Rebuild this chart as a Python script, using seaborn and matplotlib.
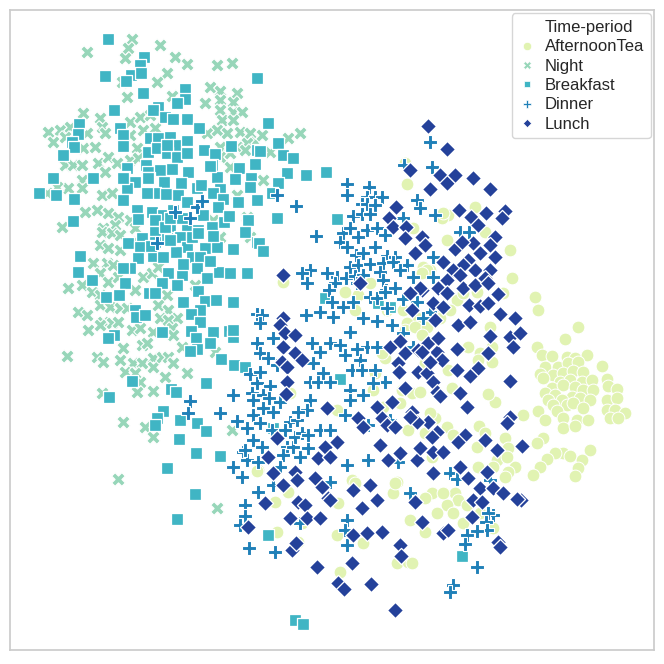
import numpy as np
import pandas as pd
import seaborn as sns
import matplotlib.pyplot as plt
from matplotlib.lines import Line2D

# point positions (x to the right, y downwards)
tea_x = [578, 537, 565, 542, 552, 567, 575, 587, 545, 558, 568, 578, 602, 540, 553, 563, 573, 583, 543, 560,
         570, 582, 592, 607, 552, 563, 575, 583, 593, 608, 617, 545, 555, 572, 580, 590, 607, 617, 548, 562,
         553, 567, 573, 583, 607, 615, 625, 538, 557, 563, 577, 588, 610, 618, 545, 563, 575, 543, 537, 590,
         563, 570, 555, 547, 540, 533, 582, 578, 575, 515, 508, 505, 523, 495, 488, 492, 468, 480, 478, 492,
         448, 425, 430, 447, 479, 485, 477, 453, 505, 497, 493, 508, 478, 455, 458, 467, 447, 453, 463, 432,
         425, 507, 452, 435, 475, 448, 442, 485, 447, 510, 423, 430, 512, 457, 463, 477, 503, 535, 538, 438,
         450, 428, 490, 405, 407, 443, 413, 427, 422, 370, 345, 358, 283, 403, 417, 407, 355, 387, 440, 405,
         415, 427, 422, 385, 382, 375, 373, 400, 402, 412, 420, 430, 408, 425, 432, 337, 383, 258, 288, 275,
         338, 352, 397, 393, 277, 425, 410, 437, 443, 290, 302, 298, 337, 363, 340, 395, 397, 408, 412, 480,
         493, 355, 257]
tea_y = [327, 347, 339, 355, 356, 357, 358, 355, 367, 367, 363, 362, 366, 374, 375, 373, 371, 372, 378, 382,
         380, 382, 380, 379, 388, 385, 387, 390, 390, 386, 389, 393, 395, 397, 398, 400, 400, 398, 400, 400,
         405, 405, 403, 408, 410, 410, 413, 411, 411, 418, 420, 420, 418, 418, 420, 428, 426, 438, 443, 450,
         453, 456, 453, 459, 467, 475, 460, 468, 476, 467, 472, 477, 415, 402, 394, 347, 347, 353, 360, 362,
         370, 363, 415, 427, 426, 433, 447, 435, 438, 460, 467, 448, 467, 493, 500, 505, 505, 513, 523, 493,
         498, 457, 388, 418, 207, 215, 218, 232, 240, 250, 267, 270, 278, 300, 293, 292, 293, 297, 310, 313,
         310, 322, 327, 163, 184, 213, 228, 270, 273, 283, 292, 295, 282, 310, 318, 323, 310, 310, 318, 330,
         327, 327, 335, 358, 353, 373, 390, 403, 390, 393, 392, 413, 430, 433, 457, 410, 407, 470, 492, 502,
         503, 480, 482, 493, 532, 532, 520, 513, 493, 393, 523, 542, 535, 543, 572, 483, 563, 562, 563, 513,
         528, 483, 471]

night_x = [132, 128, 87, 160, 125, 175, 187, 217, 232, 167, 157, 122, 210, 220, 237, 127, 172, 205, 220, 233,
           83, 100, 130, 140, 150, 220, 233, 242, 222, 233, 48, 60, 70, 102, 87, 105, 53, 65, 83, 95,
           130, 137, 143, 155, 207, 217, 227, 240, 250, 255, 220, 237, 247, 65, 73, 82, 98, 108, 117, 105,
           130, 138, 220, 230, 82, 68, 57, 47, 82, 102, 112, 147, 237, 85, 97, 108, 118, 62, 103, 115,
           130, 135, 220, 213, 247, 250, 102, 112, 120, 100, 108, 120, 137, 93, 107, 113, 100, 108, 118, 143,
           152, 158, 68, 82, 92, 100, 135, 167, 195, 78, 87, 100, 110, 120, 127, 158, 168, 177, 103, 112,
           118, 160, 168, 88, 100, 132, 140, 153, 172, 173, 123, 142, 147, 182, 215, 67, 97, 103, 120, 133,
           142, 153, 153, 162, 168, 173, 125, 135, 165, 187, 140, 102, 137, 153, 123, 145, 153, 232, 118, 217,
           262, 300, 288, 270, 263, 245, 230]
night_y = [39, 48, 52, 45, 58, 57, 64, 65, 63, 73, 82, 82, 87, 91, 93, 97, 96, 103, 100, 102,
           113, 118, 122, 117, 115, 110, 112, 112, 120, 120, 132, 130, 127, 127, 133, 133, 142, 137, 148, 147,
           135, 148, 130, 128, 133, 130, 133, 132, 133, 142, 147, 147, 143, 165, 165, 165, 163, 157, 163, 172,
           160, 158, 157, 167, 180, 188, 187, 193, 188, 195, 193, 193, 195, 212, 210, 213, 217, 227, 228, 225,
           220, 228, 237, 220, 217, 237, 232, 233, 235, 245, 248, 250, 242, 263, 263, 265, 273, 282, 277, 277,
           273, 267, 288, 285, 292, 295, 290, 295, 285, 312, 315, 305, 307, 308, 308, 305, 310, 318, 322, 323,
           322, 318, 320, 330, 325, 330, 328, 332, 328, 335, 348, 345, 343, 347, 352, 356, 357, 362, 360, 363,
           363, 358, 367, 357, 357, 363, 372, 373, 377, 373, 382, 393, 392, 391, 422, 427, 437, 430, 479, 508,
           135, 133, 138, 152, 180, 150, 153]

breakfast_x = [108, 144, 140, 105, 131, 141, 126, 143, 185, 185, 177, 257, 114, 158, 153, 165, 173, 187, 199, 79,
               78, 120, 123, 123, 72, 74, 63, 150, 158, 170, 177, 187, 188, 148, 157, 167, 177, 204, 215, 231,
               257, 127, 146, 148, 160, 172, 188, 212, 217, 239, 255, 53, 93, 124, 135, 149, 164, 181, 197, 201,
               220, 235, 251, 250, 39, 56, 74, 127, 123, 155, 166, 178, 187, 213, 223, 238, 257, 137, 152, 163,
               173, 203, 218, 73, 138, 155, 170, 187, 198, 212, 224, 229, 248, 245, 155, 142, 167,
               167, 187, 123, 148, 210, 147, 165, 170, 182, 128, 140, 155, 180, 187, 205, 217, 233, 257, 138,
               153, 163, 176, 192, 200, 130, 125, 168, 182, 197, 207, 219, 230, 247, 162, 177,
               170, 192, 198, 213, 151, 80, 210, 183, 78, 92, 123, 198, 106, 119, 149, 155, 205, 183, 216, 233,
               200, 191, 135, 136, 145, 200, 114, 108, 162, 191, 213, 229, 233, 196, 210, 197, 190, 221, 234, 245,
               132, 206, 171, 176, 109, 163, 157, 155, 180, 197, 206, 179, 196, 220, 167, 195, 177,
               268, 278, 260, 283, 293, 287, 306, 326, 278, 272, 277, 337, 259, 263, 325, 378, 390,
               233, 340, 273, 295, 303, 268, 462]
breakfast_y = [39, 57, 65, 76, 75, 73, 81, 93, 89, 99, 103, 78, 110, 107, 110, 117, 119, 119, 128, 124,
               134, 128, 135, 146, 142, 147, 155, 138, 138, 137, 145, 141, 152, 152, 148, 153, 157, 150, 154, 146,
               150, 168, 165, 172, 170, 169, 172, 165, 177, 168, 164, 178, 178, 177, 182, 178, 182, 183, 188, 185,
               189, 179, 178, 187, 193, 195, 199, 188, 200, 193, 194, 195, 202, 193, 199, 202, 200, 210, 212, 215,
               210, 215, 207, 221, 219, 220, 226, 229, 230, 227, 222, 216, 220, 232, 232, 238, 238,
               145, 153, 178, 178, 166, 193, 227, 218, 218, 243, 247, 242, 237, 247, 248, 247, 249, 242, 258,
               256, 257, 252, 257, 257, 268, 283, 273, 275, 268, 278, 272, 273, 273, 283, 285,
               240, 237, 233, 236, 246, 256, 261, 264, 272, 280, 268, 291, 297, 295, 293, 293, 301, 302, 300, 302,
               310, 314, 310, 317, 315, 322, 335, 338, 332, 331, 332, 331, 337, 338, 343, 349, 351, 359, 365, 367,
               381, 383, 389, 392, 397, 411, 418, 425, 420, 423, 431, 439, 453, 456, 468, 494, 519,
               123, 143, 151, 155, 158, 173, 175, 172, 183, 193, 218, 219, 243, 251, 298, 303, 307,
               330, 379, 428, 620, 624, 535, 556]

dinner_x = [432, 347, 347, 369, 367, 375, 382, 362, 367, 375, 417, 420, 353, 362, 370, 403, 435, 277, 296, 316,
            343, 350, 367, 377, 385, 358, 340, 347, 375, 356, 363, 387, 395, 350, 358, 370, 383, 393, 407, 400,
            310, 302, 327, 337, 346, 355, 363, 380, 383, 413, 433, 307, 335, 357, 386, 395, 329, 370, 377, 385,
            403, 417, 332, 353, 387, 343, 306, 320, 333, 363, 377, 392, 257, 262, 260, 430,
            175, 190, 197, 202, 157,
            190, 188, 220, 232, 237, 252, 253, 247, 253, 243, 247, 233, 242, 257, 245, 245, 257, 250, 257,
            273, 260, 268, 277, 260, 270, 263, 269, 233, 253, 263, 273, 280, 260, 272, 290, 285, 262, 245, 258,
            287, 293, 283, 300, 308, 280, 295, 302, 297, 310, 307, 298, 310, 318, 330, 323, 312, 320, 330, 340,
            345, 313, 350, 360, 352, 362, 375, 367, 357, 377, 385, 373, 350, 350, 363, 320, 330, 308, 345, 368,
            390, 368, 347, 330, 273, 258, 300, 347, 345, 403, 413, 398, 410,
            240, 249, 275, 347, 493, 488, 486, 487, 477, 467, 465, 477, 453, 450,
            450, 457, 490, 460, 469, 433, 423, 430, 404]
dinner_y = [167, 184, 195, 187, 197, 197, 197, 204, 204, 205, 200, 208, 216, 214, 214, 218, 215, 195, 206, 236,
            233, 228, 230, 228, 235, 237, 242, 247, 247, 255, 253, 256, 257, 267, 265, 264, 263, 262, 265, 270,
            270, 273, 273, 277, 278, 276, 275, 272, 280, 277, 277, 283, 283, 283, 290, 288, 290, 297, 298, 292,
            299, 302, 302, 302, 308, 307, 315, 312, 317, 318, 321, 325, 314, 315, 323, 312,
            212, 218, 207, 201, 243,
            401, 413, 413, 394, 421, 393, 415, 428, 440, 452, 460, 467, 477, 493, 505, 516, 343, 374, 383,
            338, 353, 358, 365, 372, 386, 395, 398, 395, 400, 408, 412, 402, 423, 430, 422, 430, 447, 450, 462,
            447, 447, 455, 457, 448, 467, 437, 433, 420, 400, 410, 412, 382, 382, 382, 373, 343, 352, 343, 345,
            355, 363, 332, 360, 370, 370, 370, 347, 349, 347, 382, 383, 390, 400, 395, 430, 430, 435, 415, 425,
            420, 460, 465, 482, 485, 492, 523, 520, 530, 333, 347, 462, 493,
            525, 548, 552, 545, 515, 513, 522, 530, 531, 535, 544, 567, 585, 592,
            473, 479, 480, 232, 232, 257, 318, 142, 165]

lunch_x = [428, 447, 440, 447, 455, 473, 430, 490, 459, 471, 486, 505, 502, 478, 495, 422, 425, 473, 490, 455,
           462, 480, 495, 443, 468, 463, 453, 475, 490, 460, 447, 485, 463, 475, 488, 438, 447, 422, 433, 469,
           480, 488, 498, 500, 515, 435, 458, 470,
           410, 396, 389, 393, 406, 405, 415, 283, 360, 420, 410, 412, 443, 283, 280,
           285, 295, 283, 295, 302, 282, 287, 287, 286, 327, 277, 268, 273, 283, 295, 325, 318, 330, 337, 315,
           322, 328, 298, 305, 290, 307, 320, 265, 248, 390, 400, 405, 398, 399, 358, 363, 377, 382, 387, 395,
           392, 405, 412, 428, 417, 380, 388, 400, 417, 420, 433, 443, 433, 353, 370, 377, 362, 415, 422, 418,
           427, 433, 437, 418, 428, 437, 442, 438, 430, 410, 443, 353, 382, 367,
           490, 510, 520, 513, 457, 422, 488, 457, 478, 470, 510, 460, 440, 467, 510, 507, 437, 432, 465, 458,
           485, 497, 522, 460, 468, 487, 480, 493, 473, 482, 503, 521, 472, 448,
           297, 330, 292, 296, 317, 352, 338, 344, 371, 400, 401, 395, 517, 498, 500]
lunch_y = [126, 149, 175, 183, 175, 178, 189, 189, 210, 217, 213, 211, 218, 225, 237, 237, 245, 243, 245, 249,
           242, 253, 257, 262, 260, 265, 270, 270, 270, 275, 280, 278, 288, 285, 283, 288, 293, 290, 303, 305,
           306, 303, 294, 314, 318, 320, 325, 322,
           170, 207, 218, 227, 227, 238, 253, 275, 283, 288, 293, 310, 307, 318, 325,
           333, 335, 347, 353, 360, 362, 367, 382, 394, 408, 438, 457, 473, 485, 472, 447, 458, 457, 442, 478,
           487, 498, 502, 505, 518, 518, 518, 503, 527, 347, 341, 353, 363, 372, 418, 427, 407, 418, 425, 427,
           402, 388, 412, 422, 422, 445, 460, 453, 460, 448, 452, 452, 473, 490, 485, 500, 508, 502, 522, 372,
           373, 382, 392, 350, 343, 352, 360, 338, 362, 417, 533, 535, 532, 533,
           336, 337, 333, 347, 349, 352, 353, 370, 368, 376, 381, 393, 396, 407, 417, 423, 432, 437, 435, 442,
           440, 450, 446, 467, 478, 472, 488, 488, 500, 502, 493, 500, 517, 530,
           480, 500, 550, 543, 567, 563, 583, 589, 584, 545, 556, 610, 499, 542, 547]

periods = ["AfternoonTea", "Night", "Breakfast", "Dinner", "Lunch"]
xs = [tea_x, night_x, breakfast_x, dinner_x, lunch_x]
ys = [tea_y, night_y, breakfast_y, dinner_y, lunch_y]
markers = ["o", "X", (4, 0, 45), "P", (4, 0, 0)]
sizes = [85, 95, 135, 100, 135]

sns.set_theme(style="whitegrid")
plt.rcParams["font.family"] = ["Liberation Sans", "DejaVu Sans"]
colors = sns.color_palette("YlGnBu", 5)

fig, ax = plt.subplots(figsize=(6.64, 6.64), dpi=100)
fig.subplots_adjust(left=10 / 664, right=654 / 664, bottom=14 / 664, top=654 / 664)

for name, x, y, m, s, c in zip(periods, xs, ys, markers, sizes, colors):
    df = pd.DataFrame({"x": x, "y": y})
    sns.scatterplot(data=df, x="x", y="y", marker=m, s=s, color=c, ax=ax, legend=False)

ax.set_xlim(10, 654)
ax.set_ylim(650, 10)
ax.set(xticks=[], yticks=[], xlabel="", ylabel="")

# legend in the old seaborn style: title shown as an entry without marker
handles = [Line2D([], [], linestyle="none", marker="")]
labels = ["Time-period"]
for name, m, c in zip(periods, markers, colors):
    handles.append(Line2D([], [], linestyle="none", marker=m, markersize=6,
                          markerfacecolor=c, markeredgecolor="w", markeredgewidth=0.5))
    labels.append(name)
ax.legend(handles, labels, loc="upper right", fontsize=12, handlelength=1.0,
          handletextpad=0.55, labelspacing=0.26, borderaxespad=0.2, frameon=True)

plt.savefig("out.png")
